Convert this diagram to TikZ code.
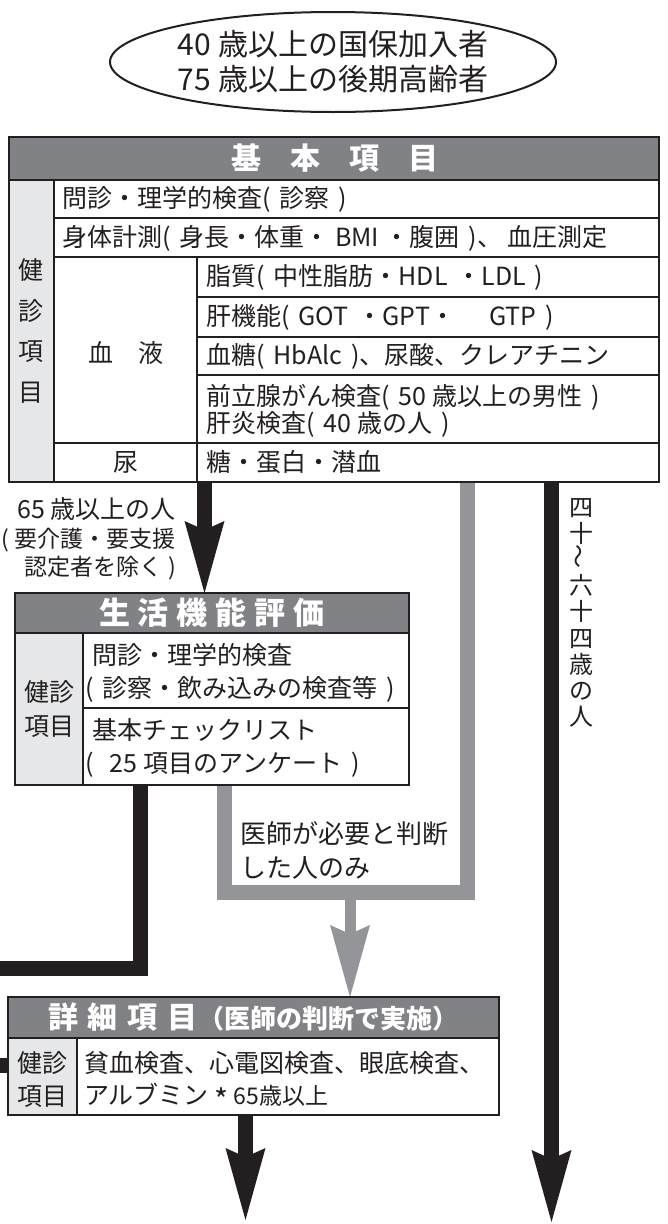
\documentclass[tikz,border=0pt]{standalone}
\usepackage{fontspec}
\usepackage{graphicx}
\setmainfont{Noto Sans CJK JP}
\usetikzlibrary{arrows.meta,shapes.geometric}
\definecolor{hdr}{HTML}{808285}
\definecolor{lgray}{HTML}{E6E7E8}
\definecolor{agray}{HTML}{939598}
\definecolor{ink}{HTML}{231F20}
\newcommand{\fsz}[1]{\fontsize{#1pt}{#1pt}\selectfont}
\newcommand{\gapsp}{\hspace{9pt}}
\tikzset{
  frame/.style={draw=ink, line width=2.5pt},
  innerline/.style={draw=ink, line width=1.5pt},
  cell/.style={inner sep=0pt, anchor=west, text=ink, font=\fsz{25}},
  ccell/.style={inner sep=0pt, anchor=center, text=ink, font=\fsz{25}},
  htext/.style={inner sep=0pt, text=white, font=\bfseries\fsz{30}},
  boxnode/.style={inner sep=0pt, outer sep=0pt, anchor=north west},
  flowblack/.style={draw=ink, line width=15pt, line join=miter},
  flowgray/.style={draw=agray, line width=15pt, line join=miter},
  bigtip/.style={-{Stealth[length=72pt, width=40pt, inset=9pt, line width=0pt]}},
  lbl/.style={inner sep=0pt, text=ink},
}
\begin{document}
\begin{tikzpicture}[x=1pt,y=-1pt]
\useasboundingbox (0,0) rectangle (668,1224);

% ---------- top ellipse ----------
\node[draw=ink, line width=2pt, ellipse, minimum width=446pt, minimum height=100pt,
      inner sep=0pt, align=center, text=ink, font=\fontsize{30pt}{35pt}\selectfont]
      (top) at (333,62) {40 歳以上の国保加入者\\75 歳以上の後期高齢者};

% ---------- box nodes ----------
\node[boxnode, minimum width=650pt, minimum height=345pt] (kihon) at (9,137) {};
\node[boxnode, minimum width=394pt, minimum height=192pt] (seikatsu) at (15,593) {};
\node[boxnode, minimum width=491pt, minimum height=118pt] (shosai) at (8,997) {};

% ---------- x helper coordinates ----------
\coordinate (xA) at (204.5,0);
\coordinate (xB) at (140,0);
\coordinate (xGL) at (224.5,0);
\coordinate (xG) at (467.5,0);
\coordinate (xR) at (551.5,0);
\coordinate (xL) at (245.5,0);
\coordinate (uB) at (350,892.5);
\coordinate (bendB) at (140,968.5);
\coordinate (leftA) at (0,968.5);
\coordinate (leftB) at (0,1065);
\coordinate (rEnd) at (551.5,1222);
\coordinate (bEnd) at (245.5,1220);

% ---------- connectors ----------
\draw[flowgray] (seikatsu.south -| xGL) |- (uB) -| (kihon.south -| xG);
\draw[flowgray, line width=11pt, bigtip] (uB) -- (shosai.north -| uB);
\draw[flowblack, bigtip] (kihon.south -| xA) -- (seikatsu.north -| xA);
\draw[flowblack] (seikatsu.south -| xB) -- (bendB) -- (leftA);
\draw[flowblack] (leftB) -- (leftB -| shosai.west);
\draw[flowblack, bigtip] (kihon.south -| xR) -- (rEnd);
\draw[flowblack, bigtip] (shosai.south -| xL) -- (bEnd);

% ---------- box 1: basic items ----------
\fill[hdr] (9,137) rectangle (659,180);
\fill[white] (9,180) rectangle (659,482);
\fill[lgray] (9,180) rectangle (54,482);
\draw[innerline] (9,180) -- (659,180);
\draw[innerline] (54,180) -- (54,482);
\draw[innerline] (54,218) -- (659,218);
\draw[innerline] (54,257) -- (659,257);
\draw[innerline] (197,257) -- (197,482);
\draw[innerline] (197,297) -- (659,297);
\draw[innerline] (197,337) -- (659,337);
\draw[innerline] (197,375) -- (659,375);
\draw[innerline] (54,443) -- (659,443);
\draw[frame] (kihon.north west) rectangle (kihon.south east);

\node[htext] (kh) at (335,158.5) {基\hspace{29pt}本\hspace{29pt}項\hspace{29pt}目};
\node[ccell] (kc1) at (31,270) {健};
\node[ccell] (kc2) at (31,311) {診};
\node[ccell] (kc3) at (31,352) {項};
\node[ccell] (kc4) at (31,393) {目};
\node[cell] (k1) at (62,199) {問診・理学的検査(\gapsp 診察\gapsp)};
\node[cell] (k2) at (62,238) {身体計測(\gapsp 身長・体重・ BMI ・腹囲\gapsp)、 血圧測定};
\node[ccell] (kb) at (126,353) {血\hspace{25pt}液};
\node[cell] (k3) at (206,277) {脂質(\gapsp 中性脂肪・HDL\gapsp・LDL\gapsp)};
\node[cell] (k4) at (206,317) {肝機能(\gapsp GOT\gapsp・GPT・\hspace{34pt}GTP\gapsp)};
\node[cell] (k5) at (206,356) {血糖(\gapsp HbAlc\gapsp)、尿酸、クレアチニン};
\node[cell] (k6) at (206,397) {前立腺がん検査(\gapsp 50 歳以上の男性\gapsp)};
\node[cell] (k7) at (206,424) {肝炎検査(\gapsp 40 歳の人\gapsp)};
\node[ccell] (ku) at (126,462) {尿};
\node[cell] (k8) at (206,462) {糖・蛋白・潜血};

% ---------- box 2: life function ----------
\fill[hdr] (15,593) rectangle (409,633);
\fill[white] (15,633) rectangle (409,785);
\fill[lgray] (15,633) rectangle (83,785);
\draw[innerline] (15,633) -- (409,633);
\draw[innerline] (83,633) -- (83,785);
\draw[innerline] (83,708) -- (409,708);
\draw[frame] (seikatsu.north west) rectangle (seikatsu.south east);

\node[htext, font=\bfseries\fsz{31}] (sh) at (212,613) {生\hspace{8pt}活\hspace{8pt}機\hspace{8pt}能\hspace{8pt}評\hspace{8pt}価};
\node[ccell] (sc1) at (49,692) {健診};
\node[ccell] (sc2) at (49,727) {項目};
\node[cell] (s1) at (92,655) {問診・理学的検査};
\node[cell] (s2) at (85,689) {(\gapsp 診察・飲み込みの検査等\gapsp)};
\node[cell] (s3) at (92,730) {基本チェックリスト};
\node[cell] (s4) at (85,765) {(\hspace{16pt}25 項目のアンケート\gapsp)};

% ---------- box 3: detailed items ----------
\fill[hdr] (8,997) rectangle (499,1038);
\fill[white] (8,1038) rectangle (499,1115);
\fill[lgray] (8,1038) rectangle (77,1115);
\draw[innerline] (8,1038) -- (499,1038);
\draw[innerline] (77,1038) -- (77,1115);
\draw[frame] (shosai.north west) rectangle (shosai.south east);

\node[htext] (dh) at (253,1017) {詳\hspace{10pt}細\hspace{10pt}項\hspace{10pt}目{\fsz{26}（医師の判断で実施）}};
\node[ccell] (dc1) at (42.5,1063) {健診};
\node[ccell] (dc2) at (42.5,1097) {項目};
\node[cell] (d1) at (84,1063) {貧血検査、心電図検査、眼底検査、};
\node[cell] (d2) at (84,1097) {アルブミン\hspace{6pt}{\fsz{30}\raisebox{-7pt}{*}}\hspace{5pt}{\fsz{23}65歳以上}};

% ---------- labels ----------
\node[lbl, align=right, anchor=east, font=\fontsize{23pt}{28.5pt}\selectfont] (age65) at (176,539)
  {{\fsz{25}65 歳以上の人}\\( 要介護・要支援\\認定者を除く )};
\node[lbl, align=center, anchor=north, font=\fontsize{24pt}{26.2pt}\selectfont] (age40) at (581,498)
  {四\\十\\\rotatebox{90}{〜}\\六\\十\\四\\歳\\の\\人};
\node[lbl, align=left, anchor=west, font=\fontsize{26pt}{34pt}\selectfont] (doctor) at (240,850)
  {医師が必要と判断\\した人のみ};
\end{tikzpicture}
\end{document}
